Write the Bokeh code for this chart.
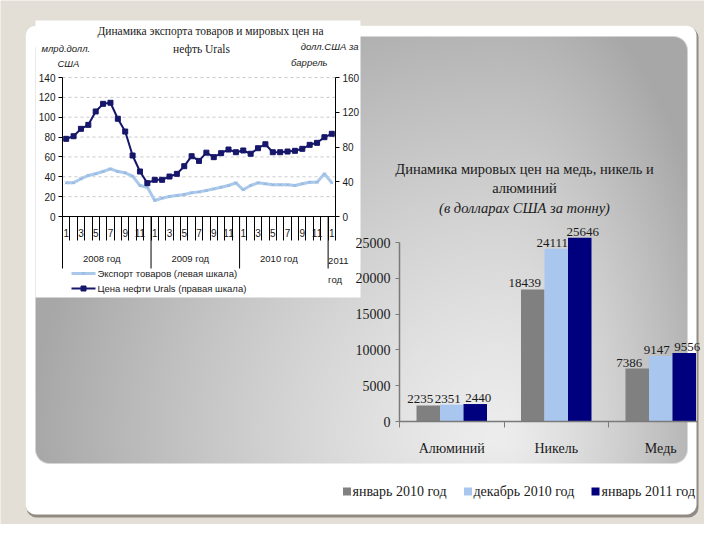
import numpy as np
from bokeh.plotting import figure
from bokeh.models import Range1d, LinearAxis, FixedTicker, BoxAnnotation, ColumnDataSource
from bokeh.core.properties import value
from bokeh.transform import dodge
from bokeh.embed import file_html
from bokeh.resources import INLINE

# ---------------- data: left chart (export & Urals) ----------------
month_labels = ["1", "3", "5", "7", "9", "11"] * 3 + ["1"]
year_labels = ["2008 год", "2009 год", "2010 год"]
last_year_label = ["2011", "год"]
export_bn_usd = [33.9, 34.0, 38.0, 41.3, 43.0, 45.3, 48.0, 45.3, 44.0, 40.6, 31.2, 29.5,
                 16.1, 18.5, 20.1, 21.1, 22.2, 23.9, 24.8, 26.2, 27.8, 29.5, 31.2, 33.9,
                 26.9, 31.2, 33.9, 32.9, 31.9, 31.9, 31.9, 31.2, 32.9, 34.5, 34.5, 43.0,
                 33.9]
urals_usd_bbl = [89.4, 92.4, 100.9, 105.5, 120.9, 129.7, 130.9, 112.5, 97.8, 70.2, 51.8, 38.4,
                 42.2, 42.2, 46.0, 49.1, 57.9, 69.4, 64.0, 73.5, 68.3, 72.9, 77.1, 74.0,
                 76.0, 72.2, 78.6, 83.2, 74.0, 74.0, 74.8, 75.6, 77.9, 82.5, 84.8, 91.3,
                 95.2]
left_ticks = [0, 20, 40, 60, 80, 100, 120, 140]
right_ticks = [0, 40, 80, 120, 160]

# ---------------- data: right chart (metals) ----------------
metals = ["Алюминий", "Никель", "Медь"]
price_jan_2010 = [2235, 18439, 7386]
price_dec_2010 = [2351, 24111, 9147]
price_jan_2011 = [2440, 25646, 9556]
period_names = ["январь 2010 год", "декабрь 2010 год", "январь 2011 год"]
bar_ticks = [0, 5000, 10000, 15000, 20000, 25000]

# ---------------- page geometry ----------------
PAGE_W, PAGE_H = 704, 524
X0, Y0 = 0, 0
X1, Y1 = X0 + PAGE_W, Y0 + PAGE_H

BEIGE = "#e4dfd6"
LIGHT = "#a9c8ea"
DARK = "#16166a"
BAR_COLORS = ["#808080", "#a8c6ee", "#00007e"]
SERIF = "Liberation Serif"
SANS = "Liberation Sans"
TXT = "#1a1a1a"

p = figure(width=PAGE_W, height=PAGE_H,
           x_range=Range1d(X0, X1), y_range=Range1d(-Y1, -Y0),
           x_axis_location=None, y_axis_location=None,
           toolbar_location=None, tools="", output_backend="svg", min_border=0)
p.background_fill_color = BEIGE
p.border_fill_color = BEIGE
p.outline_line_color = None
for g in p.grid:
    g.visible = False


def xrange_for(anchor_px, ppu):
    return Range1d((X0 - anchor_px) / ppu, (X1 - anchor_px) / ppu)


def yrange_for(anchor_px, ppu):
    return Range1d((anchor_px - Y1) / ppu, (anchor_px - Y0) / ppu)


# line chart plot area
LC_L, LC_R, LC_ZERO, LC_TOP = 62, 335, 216, 77
n_months = len(export_bn_usd)
m_px = (LC_R - LC_L) / n_months
# bar chart plot area
BC_L, BC_CAT, BC_ZERO, BC_TOP, BC_CLIP = 399, 104.5, 421, 242, 697

p.extra_x_ranges = {
    "mon": xrange_for(LC_L, m_px),
    "barx": xrange_for(BC_L, BC_CAT),
}
p.extra_y_ranges = {
    "exp": yrange_for(LC_ZERO, (LC_ZERO - LC_TOP) / left_ticks[-1]),
    "oil": yrange_for(LC_ZERO, (LC_ZERO - LC_TOP) / right_ticks[-1]),
    "bary": yrange_for(BC_ZERO, (BC_ZERO - BC_TOP) / bar_ticks[-1]),
}

# ---------------- slide background ----------------
p.add_layout(BoxAnnotation(left=26, right=698, top=-27, bottom=-517, fill_color="#8f8a83",
                           fill_alpha=1, line_color=None, border_radius=10, level="image"))
p.add_layout(BoxAnnotation(left=25, right=696, top=-25, bottom=-514, fill_color="white",
                           fill_alpha=1, line_color="#d2cdc4", border_radius=10, level="image"))

PX0, PX1, PY0, PY1, PR = 35, 687, 36, 463, 14
pw, ph = PX1 - PX0, PY1 - PY0
yy, xx = np.mgrid[0:ph, 0:pw]
gx = xx + PX0 + 0.5
gy = yy + PY0 + 0.5
cx, cy = 500.0, 440.0
axr = np.where(gx < cx, 470.0, 230.0)
ayr = np.where(gy < cy, 480.0, 200.0)
d = np.clip(np.sqrt(((gx - cx) / axr) ** 2 + ((gy - cy) / ayr) ** 2), 0, 1)
gray = 237 - 70 * d ** 1.3
qx = np.clip(gx, PX0 + PR, PX1 - PR)
qy = np.clip(gy, PY0 + PR, PY1 - PR)
alpha = np.clip(PR - np.hypot(gx - qx, gy - qy) + 0.5, 0, 1) * 255
img = np.zeros((ph, pw), dtype=np.uint32)
view = img.view(dtype=np.uint8).reshape((ph, pw, 4))
view[..., 0] = gray
view[..., 1] = gray
view[..., 2] = gray
view[..., 3] = alpha
p.image_rgba(image=[img[::-1].copy()], x=PX0, y=-PY1, dw=pw, dh=ph, level="underlay")

# white box of the left chart
p.quad(left=35, right=360, top=-20, bottom=-297, fill_color="white", line_color=None,
       level="underlay")


def style_axis(ax, font, size, line_color="black", color=TXT):
    ax.axis_line_color = line_color
    ax.major_tick_line_color = line_color
    ax.minor_tick_line_color = None
    ax.major_label_text_font = font
    ax.major_label_text_font_size = size
    ax.major_label_text_color = color
    ax.level = "guide"


# ---------------- left chart ----------------
mx = [k + 0.5 for k in range(n_months)]

grid_src = ColumnDataSource(dict(v=left_ticks[1:]))
p.segment(x0=0, x1=n_months, y0="v", y1="v", source=grid_src, x_range_name="mon",
          y_range_name="exp", line_color="#c9c9c9", line_dash="3 3", line_width=1)

ax_l = LinearAxis(y_range_name="exp", fixed_location=LC_L, bounds=(0, left_ticks[-1]),
                  ticker=FixedTicker(ticks=left_ticks), major_tick_out=4, major_tick_in=0,
                  major_label_standoff=3)
style_axis(ax_l, SANS, "10px")
p.add_layout(ax_l, "left")

ax_r = LinearAxis(y_range_name="oil", fixed_location=LC_R, bounds=(0, right_ticks[-1]),
                  ticker=FixedTicker(ticks=right_ticks), major_tick_out=4, major_tick_in=0,
                  major_label_standoff=3)
style_axis(ax_r, SANS, "10px")
p.add_layout(ax_r, "right")

ax_m = LinearAxis(x_range_name="mon", fixed_location=-LC_ZERO, bounds=(0, n_months),
                  ticker=FixedTicker(ticks=list(range(n_months + 1))),
                  major_tick_out=24, major_tick_in=0,
                  major_label_overrides={k: "" for k in range(n_months + 1)})
style_axis(ax_m, SANS, "10px")
p.add_layout(ax_m, "below")

label_pos = [k + 0.5 for k in range(0, n_months, 2)]
ax_ml = LinearAxis(x_range_name="mon", fixed_location=-LC_ZERO,
                   ticker=FixedTicker(ticks=label_pos), major_tick_out=0, major_tick_in=0,
                   major_label_standoff=12,
                   major_label_overrides=dict(zip(label_pos, month_labels)))
style_axis(ax_ml, SANS, "10px", line_color=None)
p.add_layout(ax_ml, "below")

year_starts = [0, 12, 24, 36]
p.segment(x0=year_starts, x1=year_starts, y0=-LC_ZERO, y1=-268, x_range_name="mon",
          line_color="black", line_width=1)
p.text(x=[6, 18, 30], y=-258, text=year_labels, x_range_name="mon", x_offset=-5,
       text_font=value(SANS), text_font_size="9.5px", text_color=TXT,
       text_align="center", text_baseline="middle")
p.text(x=[36, 36], y=[-260, -279], text=last_year_label, x_range_name="mon",
       text_font=value(SANS), text_font_size="9.5px", text_color=TXT,
       text_align="left", text_baseline="middle")

p.line(x=mx, y=export_bn_usd, x_range_name="mon", y_range_name="exp",
       line_color=LIGHT, line_width=3)
p.scatter(x=mx, y=export_bn_usd, x_range_name="mon", y_range_name="exp",
          marker="x", size=4, line_color="#93b6e0", line_width=1)
p.line(x=mx, y=urals_usd_bbl, x_range_name="mon", y_range_name="oil",
       line_color=DARK, line_width=2)
p.scatter(x=mx, y=urals_usd_bbl, x_range_name="mon", y_range_name="oil",
          marker="square", size=5, fill_color=DARK, line_color=DARK)

# titles and units of the left chart
p.text(x=[210, 201], y=[-30, -48],
       text=["Динамика экспорта товаров и мировых цен на", "нефть Urals"],
       text_font=value(SERIF), text_font_size="11.5px", text_color=TXT,
       text_align="center", text_baseline="middle")
p.text(x=[41, 57], y=[-48, -63], text=["млрд.долл.", "США"],
       text_font=value(SANS), text_font_style="italic", text_font_size="9.5px",
       text_color=TXT, text_align="left", text_baseline="middle")
p.text(x=[358, 327], y=[-46, -62], text=["долл.США за", "баррель"],
       text_font=value(SANS), text_font_style="italic", text_font_size="9.5px",
       text_color=TXT, text_align="right", text_baseline="middle")

# legend of the left chart
p.segment(x0=[71, 71], x1=[95, 95], y0=[-273, -288], y1=[-273, -288],
          line_color=[LIGHT, DARK], line_width=[3, 2])
p.scatter(x=[83], y=[-273], marker="x", size=4, line_color="#93b6e0")
p.scatter(x=[83], y=[-288], marker="square", size=5, fill_color=DARK, line_color=DARK)
p.text(x=[97, 97], y=[-273, -288],
       text=["Экспорт товаров (левая шкала)", "Цена нефти Urals (правая шкала)"],
       text_font=value(SANS), text_font_size="9.5px", text_color=TXT,
       text_align="left", text_baseline="middle")

# ---------------- right chart ----------------
cat_x = [i + 0.5 for i in range(len(metals))]
bw = 23.5 / BC_CAT
bsrc = ColumnDataSource(dict(
    x=cat_x,
    s0=price_jan_2010, s1=price_dec_2010, s2=price_jan_2011,
    t0=[str(v) for v in price_jan_2010],
    t1=[str(v) for v in price_dec_2010],
    t2=[str(v) for v in price_jan_2011],
))
label_shift = [-8, -4, 3]
for i, off in enumerate([-bw, 0.0, bw]):
    p.vbar(x=dodge("x", off), top=f"s{i}", bottom=0, width=bw, source=bsrc,
           x_range_name="barx", y_range_name="bary",
           fill_color=BAR_COLORS[i], line_color=None)
    p.text(x=dodge("x", off), y=f"s{i}", text=f"t{i}", source=bsrc,
           x_range_name="barx", y_range_name="bary", x_offset=label_shift[i], y_offset=-2,
           text_font=value(SERIF), text_font_size="13px", text_color=TXT,
           text_align="center", text_baseline="bottom")

ax_by = LinearAxis(y_range_name="bary", fixed_location=BC_L, bounds=(0, bar_ticks[-1]),
                   ticker=FixedTicker(ticks=bar_ticks), major_tick_out=4, major_tick_in=0,
                   major_label_standoff=5)
style_axis(ax_by, SERIF, "14px", line_color="#7a7a7a")
ax_by.axis_line_width = 1.5
p.add_layout(ax_by, "left")

x_end = (BC_CLIP - BC_L) / BC_CAT
ax_bx = LinearAxis(x_range_name="barx", fixed_location=-BC_ZERO, bounds=(0, x_end),
                   ticker=FixedTicker(ticks=[0, 1, 2]), major_tick_out=6, major_tick_in=0,
                   major_label_overrides={0: "", 1: "", 2: ""})
style_axis(ax_bx, SERIF, "14px", line_color="#7a7a7a")
ax_bx.axis_line_width = 1.5
p.add_layout(ax_bx, "below")

ax_bc = LinearAxis(x_range_name="barx", fixed_location=-BC_ZERO,
                   ticker=FixedTicker(ticks=cat_x), major_tick_out=0, major_tick_in=0,
                   major_label_standoff=19,
                   major_label_overrides=dict(zip(cat_x, metals)))
style_axis(ax_bc, SERIF, "14px", line_color=None)
p.add_layout(ax_bc, "below")

p.text(x=[524, 524], y=[-168, -187],
       text=["Динамика мировых цен на медь, никель и", "алюминий"],
       text_font=value(SERIF), text_font_size="14.5px", text_color=TXT,
       text_align="center", text_baseline="middle")
p.text(x=[524], y=[-207], text=["(в долларах США за тонну)"],
       text_font=value(SERIF), text_font_style="italic", text_font_size="14.5px",
       text_color=TXT, text_align="center", text_baseline="middle")

# legend of the right chart
p.scatter(x=[346.5, 467.5, 595], y=[-491, -491, -491], marker="square", size=8,
          fill_color=BAR_COLORS, line_color=None)
p.text(x=[352, 473, 601], y=[-491, -491, -491], text=period_names,
       text_font=value(SERIF), text_font_size="14px", text_color=TXT,
       text_align="left", text_baseline="middle")

open("out.html", "w").write(file_html(p, INLINE))
